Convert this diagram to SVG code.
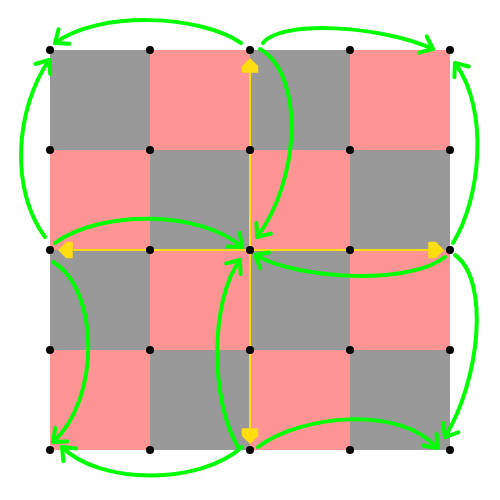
<svg xmlns="http://www.w3.org/2000/svg" width="500" height="500" viewBox="0 0 500 500">
<defs>
<style>
.g{fill:#999999}
.p{fill:#ff9494}
.y{stroke:#ffdd11;stroke-width:2;fill:none}
.yh{fill:#ffdd11;stroke:#ffdd11;stroke-width:1.5;stroke-linejoin:round}
.c{stroke:#00ff00;stroke-width:4;fill:none;stroke-linecap:round;marker-end:url(#ah)}
.n{fill:#000}
</style>
<marker id="ah" markerUnits="userSpaceOnUse" orient="auto" markerWidth="30" markerHeight="30" viewBox="-15 -15 30 30" refX="0" refY="0" overflow="visible">
<path d="M-11,-9 L0,0 L-11,9" fill="none" stroke="#00ff00" stroke-width="4" stroke-linecap="round" stroke-linejoin="round"/>
</marker>
</defs>
<rect width="500" height="500" fill="#fff"/>
<g id="board">
<rect class="g" x="50" y="50" width="100" height="100"/>
<rect class="p" x="150" y="50" width="100" height="100"/>
<rect class="g" x="250" y="50" width="100" height="100"/>
<rect class="p" x="350" y="50" width="100" height="100"/>
<rect class="p" x="50" y="150" width="100" height="100"/>
<rect class="g" x="150" y="150" width="100" height="100"/>
<rect class="p" x="250" y="150" width="100" height="100"/>
<rect class="g" x="350" y="150" width="100" height="100"/>
<rect class="g" x="50" y="250" width="100" height="100"/>
<rect class="p" x="150" y="250" width="100" height="100"/>
<rect class="g" x="250" y="250" width="100" height="100"/>
<rect class="p" x="350" y="250" width="100" height="100"/>
<rect class="p" x="50" y="350" width="100" height="100"/>
<rect class="g" x="150" y="350" width="100" height="100"/>
<rect class="p" x="250" y="350" width="100" height="100"/>
<rect class="g" x="350" y="350" width="100" height="100"/>
</g>
<g id="connectors">
<g id="axes">
<line class="y" x1="250" y1="250" x2="250" y2="70"/>
<polygon class="yh" points="250,59 257.5,66.5 257.5,72 242.5,72 242.5,66.5"/>
<line class="y" x1="250" y1="250" x2="70" y2="250"/>
<polygon class="yh" points="59,250 66.5,242.5 72,242.5 72,257.5 66.5,257.5"/>
<line class="y" x1="250" y1="250" x2="430" y2="250"/>
<polygon class="yh" points="443,250 435.5,242.5 429,242.5 429,257.5 435.5,257.5"/>
<line class="y" x1="250" y1="250" x2="250" y2="430"/>
<polygon class="yh" points="250,443 242.5,435.5 242.5,429 257.5,429 257.5,435.5"/>
</g>
<path class="c" d="M241,43 C200,15 100,10 55,43"/>
<path class="c" d="M45,237 C10,190 15,110 49,60"/>
<path class="c" d="M55,243 C100,210 200,210 242,247"/>
<path class="c" d="M263,43 C280,20 380,25 433,49"/>
<path class="c" d="M260,49 C305,75 300,180 257,237"/>
<path class="c" d="M453,243 C480,200 490,110 455,63"/>
<path class="c" d="M445,257 C410,285 300,280 255,255"/>
<path class="c" d="M455,255 C490,280 480,380 445,437"/>
<path class="c" d="M258,447 C300,415 400,405 437,448"/>
<path class="c" d="M242,447 C200,485 100,485 62,447"/>
<path class="c" d="M238,447 C210,400 210,300 240,260"/>
<path class="c" d="M53,262 C100,290 100,400 53,442"/>
</g>
<g id="nodes">
<g id="n00"><circle class="n" cx="50" cy="50" r="4"/></g>
<g id="n10"><circle class="n" cx="150" cy="50" r="4"/></g>
<g id="n20"><circle class="n" cx="250" cy="50" r="4"/></g>
<g id="n30"><circle class="n" cx="350" cy="50" r="4"/></g>
<g id="n40"><circle class="n" cx="450" cy="50" r="4"/></g>
<g id="n01"><circle class="n" cx="50" cy="150" r="4"/></g>
<g id="n11"><circle class="n" cx="150" cy="150" r="4"/></g>
<g id="n21"><circle class="n" cx="250" cy="150" r="4"/></g>
<g id="n31"><circle class="n" cx="350" cy="150" r="4"/></g>
<g id="n41"><circle class="n" cx="450" cy="150" r="4"/></g>
<g id="n02"><circle class="n" cx="50" cy="250" r="4"/></g>
<g id="n12"><circle class="n" cx="150" cy="250" r="4"/></g>
<g id="n22"><circle class="n" cx="250" cy="250" r="4"/></g>
<g id="n32"><circle class="n" cx="350" cy="250" r="4"/></g>
<g id="n42"><circle class="n" cx="450" cy="250" r="4"/></g>
<g id="n03"><circle class="n" cx="50" cy="350" r="4"/></g>
<g id="n13"><circle class="n" cx="150" cy="350" r="4"/></g>
<g id="n23"><circle class="n" cx="250" cy="350" r="4"/></g>
<g id="n33"><circle class="n" cx="350" cy="350" r="4"/></g>
<g id="n43"><circle class="n" cx="450" cy="350" r="4"/></g>
<g id="n04"><circle class="n" cx="50" cy="450" r="4"/></g>
<g id="n14"><circle class="n" cx="150" cy="450" r="4"/></g>
<g id="n24"><circle class="n" cx="250" cy="450" r="4"/></g>
<g id="n34"><circle class="n" cx="350" cy="450" r="4"/></g>
<g id="n44"><circle class="n" cx="450" cy="450" r="4"/></g>
</g>
</svg>
